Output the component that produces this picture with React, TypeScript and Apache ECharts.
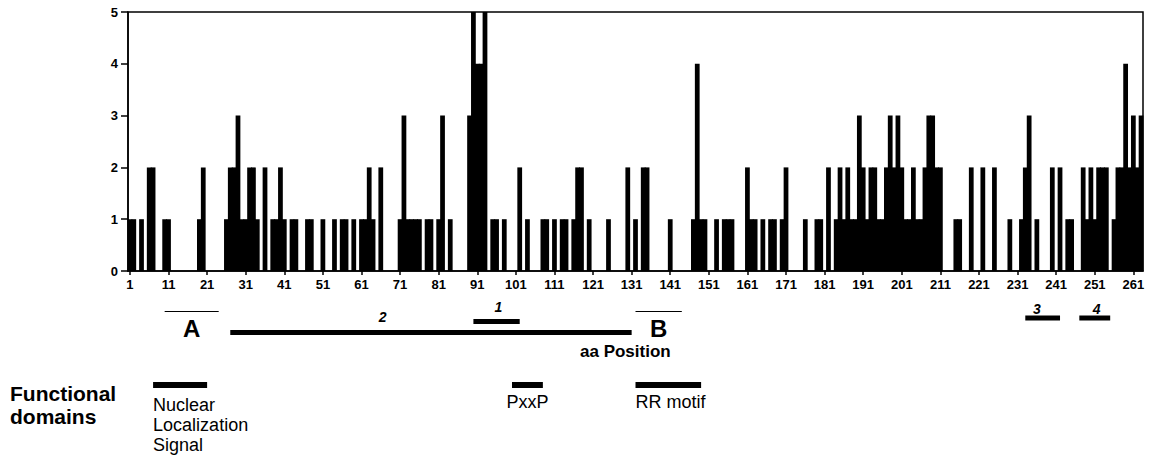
import React, { useEffect, useRef } from "react";
import * as echarts from "echarts";

// ---------- data ----------
// amino-acid positions (categories) 1..263
const positions: string[] = Array.from({ length: 263 }, (_, i) => String(i + 1));
// count per amino-acid position
const counts: number[] = [
  1, 1, 0, 1, 0, 2, 2, 0, 0, 1,
  1, 0, 0, 0, 0, 0, 0, 0, 1, 2,
  0, 0, 0, 0, 0, 1, 2, 2, 3, 1,
  1, 2, 2, 1, 0, 2, 0, 1, 1, 2,
  1, 0, 1, 1, 0, 0, 1, 1, 0, 0,
  1, 0, 0, 1, 0, 1, 1, 0, 1, 0,
  1, 1, 2, 1, 0, 2, 0, 0, 0, 0,
  1, 3, 1, 1, 1, 1, 0, 1, 1, 0,
  1, 3, 0, 1, 0, 0, 0, 0, 3, 5,
  4, 4, 5, 0, 1, 1, 0, 1, 0, 0,
  0, 2, 0, 1, 0, 0, 0, 1, 1, 0,
  1, 0, 1, 1, 0, 1, 2, 2, 0, 1,
  0, 0, 0, 0, 1, 0, 0, 0, 0, 2,
  0, 1, 0, 2, 2, 0, 0, 0, 0, 0,
  1, 0, 0, 0, 0, 0, 1, 4, 1, 1,
  0, 0, 1, 0, 1, 1, 1, 0, 0, 0,
  2, 1, 1, 0, 1, 0, 1, 1, 0, 1,
  2, 0, 0, 0, 0, 1, 0, 0, 1, 1,
  0, 2, 0, 1, 2, 1, 2, 1, 1, 3,
  2, 1, 2, 2, 1, 1, 2, 3, 2, 3,
  2, 1, 1, 2, 1, 1, 2, 3, 3, 2,
  2, 0, 0, 0, 1, 1, 0, 0, 2, 0,
  0, 2, 0, 0, 2, 0, 0, 0, 1, 0,
  0, 1, 2, 3, 0, 1, 0, 0, 0, 2,
  0, 2, 0, 1, 1, 0, 0, 2, 1, 2,
  1, 2, 2, 2, 0, 1, 2, 2, 4, 2,
  3, 2, 3,
];
const xLabelEvery = 10; // labels 1, 11, 21, ...
const yMin = 0;
const yMax = 5;
const yInterval = 1;

// peptides (aa ranges)
const peptideNames = ["1", "2", "3", "4"];
const peptideStart = [90, 27, 233, 247];
const peptideEnd = [102, 131, 242, 255];
const peptideLabelAt = [96.5, 66.5, 236, 251.5];

// regions A / B (aa ranges)
const regionNames = ["A", "B"];
const regionStart = [10, 132];
const regionEnd = [24, 144];

// functional domains (aa ranges)
const domainNames = ["Nuclear\nLocalization\nSignal", "PxxP", "RR motif"];
const domainStart = [7, 100, 132];
const domainEnd = [21, 108, 149];

const axisTitle = "aa Position";
const domainsTitle = "Functional\ndomains";

// ---------- layout (pixels) ----------
const FONT = '"Liberation Sans", Arial, Helvetica, sans-serif';
const peptideLineY = [321.5, 332.5, 318, 318];
const peptideLabelY = [307, 316.5, 308.5, 308.5];
const regionLineY = 311.5;
const regionLetterY = 328.5;
const domainBarY = 385;
const domainLabelTop = [395, 392, 392];
const domainLabelAlign = ["left", "center", "left"];

export default function App() {
  const ref = useRef<HTMLDivElement>(null);

  useEffect(() => {
    if (!ref.current) return;
    const chart = echarts.init(ref.current, undefined, { renderer: "svg" });

    const showIdx = (idx: number) => idx % xLabelEvery === 0;

    const option: any = {
      animation: false,
      backgroundColor: "#fff",
      grid: {
        left: 128,
        right: 6,
        top: 12,
        bottom: 184,
        show: true,
        borderColor: "#000",
        borderWidth: 1.5,
        containLabel: false,
        outerBoundsMode: "none",
      },
      xAxis: [
        {
          type: "category",
          data: positions,
          boundaryGap: true,
          axisLine: { show: true, lineStyle: { color: "#000", width: 1.5 } },
          axisTick: {
            show: true,
            alignWithLabel: true,
            interval: showIdx,
            length: 4,
            lineStyle: { color: "#000", width: 1.5 },
          },
          axisLabel: {
            interval: showIdx,
            margin: 7,
            color: "#000",
            fontWeight: "bold",
            fontSize: 13,
            fontFamily: FONT,
          },
          splitLine: { show: false },
        },
        {
          type: "value",
          min: 0.5,
          max: positions.length + 0.5,
          show: false,
          splitLine: { show: false },
        },
      ],
      yAxis: {
        type: "value",
        min: yMin,
        max: yMax,
        interval: yInterval,
        axisLine: { show: true, lineStyle: { color: "#000", width: 1.5 } },
        axisTick: { show: true, length: 7, lineStyle: { color: "#000", width: 1.5 } },
        axisLabel: {
          margin: 10,
          color: "#000",
          fontWeight: "bold",
          fontSize: 13,
          fontFamily: FONT,
        },
        splitLine: { show: false },
      },
      series: [
        {
          // histogram bars, one per aa position, drawn through the value x axis
          type: "custom",
          xAxisIndex: 1,
          silent: true,
          encode: { x: 0, y: 1 },
          data: counts.map((c, i) => [Number(positions[i]), c]),
          renderItem: (params: any, api: any) => {
            const p = api.value(0);
            const v = api.value(1);
            if (!v) return null;
            const a = api.coord([p - 0.5, 0]);
            const b = api.coord([p + 0.5, v]);
            return {
              type: "rect",
              shape: { x: a[0] - 0.45, y: b[1], width: b[0] - a[0] + 0.9, height: a[1] - b[1] },
              style: { fill: "#000" },
            };
          },
        },
        {
          type: "custom",
          xAxisIndex: 1,
          clip: false,
          silent: true,
          encode: { x: [0, 1], y: 2 },
          data: peptideNames.map((_, i) => [peptideStart[i], peptideEnd[i], 0]),
          renderItem: (params: any, api: any) => {
            const i = params.dataIndex;
            const x0 = api.coord([api.value(0), 0])[0];
            const x1 = api.coord([api.value(1), 0])[0];
            const xl = api.coord([peptideLabelAt[i], 0])[0];
            return {
              type: "group",
              children: [
                {
                  type: "rect",
                  shape: { x: x0, y: peptideLineY[i] - 2.5, width: x1 - x0, height: 5 },
                  style: { fill: "#000" },
                },
                {
                  type: "text",
                  x: xl,
                  y: peptideLabelY[i],
                  style: {
                    text: peptideNames[i],
                    fill: "#000",
                    font: `italic bold 14px ${FONT}`,
                    textAlign: "center",
                    textVerticalAlign: "middle",
                  },
                },
              ],
            };
          },
        },
        {
          type: "custom",
          xAxisIndex: 1,
          clip: false,
          silent: true,
          encode: { x: [0, 1], y: 2 },
          data: regionNames.map((_, i) => [regionStart[i], regionEnd[i], 0]),
          renderItem: (params: any, api: any) => {
            const i = params.dataIndex;
            const x0 = api.coord([api.value(0), 0])[0];
            const x1 = api.coord([api.value(1), 0])[0];
            return {
              type: "group",
              children: [
                {
                  type: "rect",
                  shape: { x: x0, y: regionLineY - 0.6, width: x1 - x0, height: 1.2 },
                  style: { fill: "#000" },
                },
                {
                  type: "text",
                  x: (x0 + x1) / 2,
                  y: regionLetterY,
                  style: {
                    text: regionNames[i],
                    fill: "#000",
                    font: `bold 24px ${FONT}`,
                    textAlign: "center",
                    textVerticalAlign: "middle",
                  },
                },
              ],
            };
          },
        },
        {
          type: "custom",
          xAxisIndex: 1,
          clip: false,
          silent: true,
          encode: { x: [0, 1], y: 2 },
          data: domainNames.map((_, i) => [domainStart[i], domainEnd[i], 0]),
          renderItem: (params: any, api: any) => {
            const i = params.dataIndex;
            const x0 = api.coord([api.value(0), 0])[0];
            const x1 = api.coord([api.value(1), 0])[0];
            const align = domainLabelAlign[i];
            return {
              type: "group",
              children: [
                {
                  type: "rect",
                  shape: { x: x0, y: domainBarY - 3, width: x1 - x0, height: 6 },
                  style: { fill: "#000" },
                },
                {
                  type: "text",
                  x: align === "center" ? (x0 + x1) / 2 : x0,
                  y: domainLabelTop[i],
                  style: {
                    text: domainNames[i],
                    fill: "#000",
                    font: `18px ${FONT}`,
                    lineHeight: 20,
                    textAlign: align,
                    textVerticalAlign: "top",
                  },
                },
              ],
            };
          },
        },
      ],
      graphic: [
        {
          type: "text",
          left: 580,
          top: 343,
          style: {
            text: axisTitle,
            fill: "#000",
            font: `bold 17px ${FONT}`,
          },
        },
        {
          type: "text",
          left: 10,
          top: 382,
          style: {
            text: domainsTitle,
            fill: "#000",
            font: `bold 21px ${FONT}`,
            lineHeight: 23,
          },
        },
      ],
    };

    chart.setOption(option);
    return () => chart.dispose();
  }, []);

  return (
    <div
      ref={ref}
      style={{ position: "absolute", left: 0, top: 0, width: 1149, height: 455 }}
    />
  );
}
